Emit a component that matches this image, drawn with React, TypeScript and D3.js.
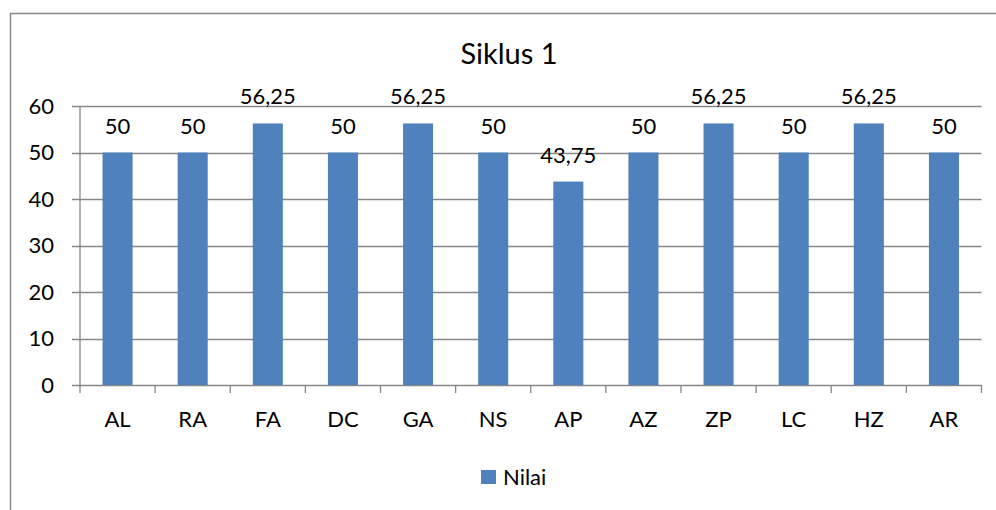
import React from "react";
import * as d3 from "d3";

const categories = ["AL", "RA", "FA", "DC", "GA", "NS", "AP", "AZ", "ZP", "LC", "HZ", "AR"];
const values = [50, 50, 56.25, 50, 56.25, 50, 43.75, 50, 56.25, 50, 56.25, 50];
const yTicks = [0, 10, 20, 30, 40, 50, 60];
const title = "Siklus 1";
const seriesName = "Nilai";

const W = 996;
const H = 510;
const FONT = "Lato, 'Open Sans', sans-serif";
const BAR = "#4F81BD";
const GRID = "#878787";

export default function App() {
  const left = 80;
  const right = 981.5;
  const top = 106;
  const bottom = 385;
  const x = d3.scaleBand<string>().domain(categories).range([left, right]).paddingInner(0.6).paddingOuter(0.3);
  const xb = d3.scaleBand<string>().domain(categories).range([left, right]);
  const y = d3.scaleLinear().domain([0, 60]).range([bottom, top]);
  const fmt = (v: number) => String(v).replace(".", ",");

  return (
    <svg width={W} height={H} style={{ position: "absolute", left: 0, top: 0, background: "#fff" }} fontFamily={FONT}>
      <rect x={10.5} y={13.5} width={W + 20} height={H + 20} fill="#fff" stroke="#898989" strokeWidth={1.5} />
      <text x={509} y={64} textAnchor="middle" fontSize={29} fill="#000">{title}</text>
      {yTicks.map((t) => (
        <g key={t}>
          <line x1={left - 8} x2={right} y1={Math.round(y(t)) + 0.5} y2={Math.round(y(t)) + 0.5} stroke={GRID} strokeWidth={1.3} />
          <text x={54} y={y(t)} dy="0.36em" textAnchor="end" fontSize={22} fill="#000">{t}</text>
        </g>
      ))}
      <line x1={left} x2={left} y1={top} y2={bottom} stroke={GRID} strokeWidth={1.3} />
      {categories.map((c, i) => (
        <line key={"tk" + c} x1={xb(c)!} x2={xb(c)!} y1={bottom} y2={bottom + 8} stroke={GRID} strokeWidth={1.3} />
      ))}
      <line x1={right} x2={right} y1={bottom} y2={bottom + 8} stroke={GRID} strokeWidth={1.3} />
      {categories.map((c, i) => (
        <g key={c}>
          <rect x={x(c)!} y={y(values[i])} width={x.bandwidth()} height={bottom - y(values[i])} fill={BAR} />
          <text x={x(c)! + x.bandwidth() / 2} y={y(values[i]) - 19} textAnchor="middle" fontSize={22} fill="#000">{fmt(values[i])}</text>
          <text x={x(c)! + x.bandwidth() / 2} y={427} textAnchor="middle" fontSize={22} fill="#000">{c}</text>
        </g>
      ))}
      <rect x={481} y={470} width={15} height={14} fill={BAR} />
      <text x={503} y={485} fontSize={22} fill="#000">{seriesName}</text>
    </svg>
  );
}
